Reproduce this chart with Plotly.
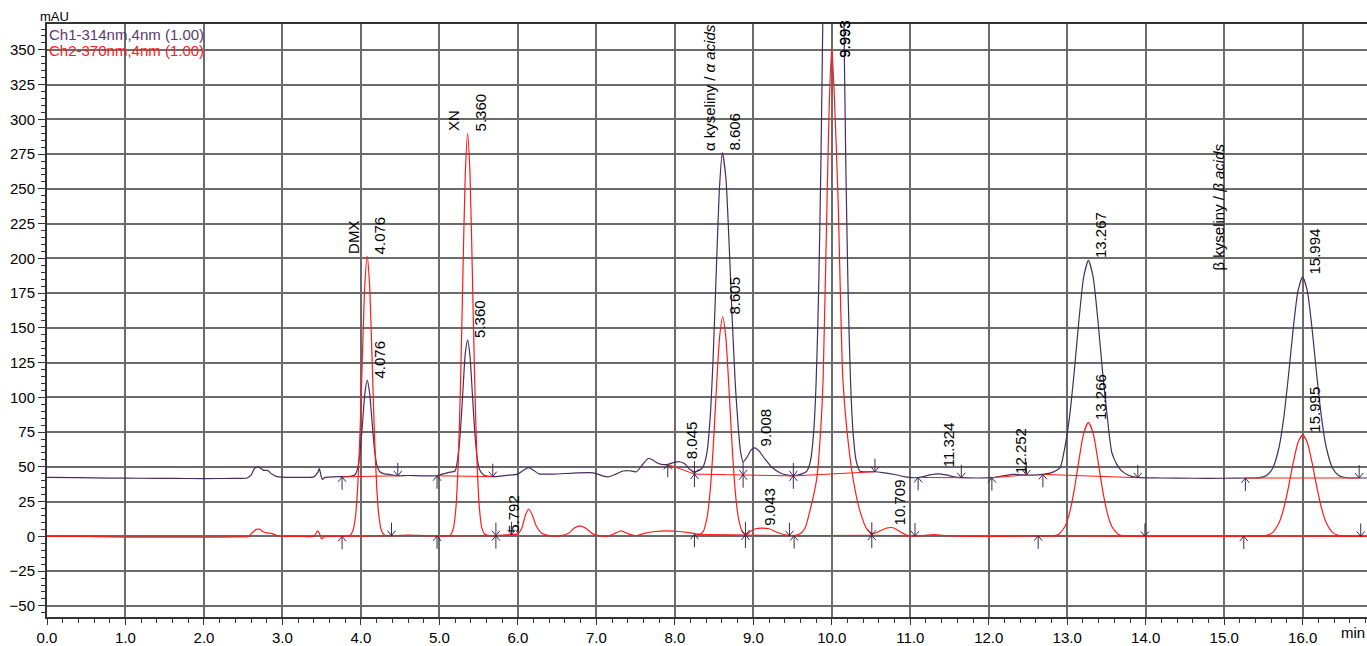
import plotly.graph_objects as go

# ---------------- data ----------------
ch1_t = [0.00, 0.40, 0.80, 1.20, 1.60, 2.00, 2.40, 2.55, 2.60, 2.64, 2.68, 2.72, 2.76, 2.81, 2.86, 2.92,
         3.00, 3.20, 3.40, 3.45, 3.47, 3.49, 3.51, 3.54, 3.65, 3.80, 3.88, 3.93, 3.96, 3.99, 4.02, 4.05,
         4.08, 4.11, 4.14, 4.17, 4.20, 4.24, 4.30, 4.36, 4.47, 4.60, 4.80, 4.96, 5.05, 5.12, 5.20, 5.24,
         5.27, 5.30, 5.33, 5.36, 5.39, 5.42, 5.45, 5.48, 5.51, 5.56, 5.68, 5.80, 5.92, 6.00, 6.07, 6.14,
         6.20, 6.27, 6.45, 6.70, 6.90, 7.00, 7.08, 7.15, 7.25, 7.34, 7.42, 7.51, 7.58, 7.66, 7.72, 7.77,
         7.83, 7.91, 7.98, 8.06, 8.13, 8.19, 8.25, 8.31, 8.36, 8.41, 8.45, 8.49, 8.53, 8.57, 8.606, 8.65,
         8.69, 8.73, 8.77, 8.81, 8.84, 8.87, 8.92, 8.97, 9.02, 9.08, 9.15, 9.24, 9.34, 9.44, 9.51, 9.62,
         9.68, 9.73, 9.77, 9.80, 9.83, 9.86, 9.89, 9.92, 9.97, 10.02, 10.07, 10.12, 10.15, 10.18, 10.21,
         10.24, 10.27, 10.31, 10.36, 10.45, 10.55, 10.65, 10.80, 10.92, 11.03, 11.15, 11.25, 11.36, 11.46,
         11.56, 11.65, 11.85, 12.04, 12.18, 12.32, 12.44, 12.56, 12.69, 12.78, 12.85, 12.91, 12.97, 13.03,
         13.09, 13.15, 13.21, 13.27, 13.33, 13.39, 13.45, 13.51, 13.57, 13.65, 13.73, 13.83, 13.93, 14.20,
         14.60, 15.00, 15.30, 15.44, 15.54, 15.62, 15.70, 15.76, 15.82, 15.88, 15.94, 16.00, 16.06, 16.12,
         16.18, 16.24, 16.30, 16.38, 16.46, 16.56, 16.70, 16.82]
ch1_v = [42.5, 42.2, 41.9, 41.8, 41.7, 41.6, 41.7, 42.0, 44.0, 48.5, 49.9, 49.0, 47.5, 47.5, 45.0, 43.2,
         42.6, 42.5, 42.8, 46.0, 48.7, 44.0, 41.0, 42.3, 42.8, 43.0, 43.3, 44.7, 49.4, 61.1, 81.0, 102.5,
         112.4, 103.5, 84.0, 64.0, 52.0, 46.5, 45.0, 44.6, 43.6, 43.8, 43.5, 43.6, 45.0, 46.0, 47.0, 59.0,
         77.5, 104.9, 131.6, 141.4, 129.6, 102.9, 75.5, 57.1, 48.3, 44.4, 43.0, 43.5, 44.2, 44.8, 47.5, 49.4,
         47.5, 45.0, 44.8, 45.5, 45.8, 45.2, 43.5, 42.8, 44.8, 47.0, 47.2, 46.5, 51.0, 56.0, 55.0, 53.0,
         51.8, 51.8, 53.0, 53.7, 52.0, 48.2, 46.5, 47.5, 50.0, 60.4, 85.1, 130.9, 193.7, 251.9, 276.0, 258.3,
         213.0, 158.0, 109.9, 77.1, 60.0, 53.5, 57.0, 62.0, 63.6, 61.0, 55.5, 49.5, 45.8, 44.0, 43.6, 45.0,
         46.8, 54.7, 75.7, 110.0, 170.0, 263.0, 391.0, 545.0, 789.0, 895.0, 789.0, 545.0, 391.0, 263.0, 170.0,
         110.0, 75.7, 54.7, 46.8, 46.5, 46.5, 45.8, 44.5, 43.0, 42.2, 42.8, 44.2, 45.0, 44.2,
         42.8, 42.2, 42.0, 42.2, 43.5, 44.6, 44.2, 44.0, 44.6, 45.5, 47.0, 49.4, 64.0, 86.2,
         118.7, 156.0, 186.6, 198.6, 186.6, 156.0, 118.7, 86.2, 60.0, 50.0, 45.5, 43.0, 42.2, 42.0,
         41.8, 41.8, 42.0, 42.1, 43.8, 49.2, 64.3, 85.6, 115.9, 149.4, 176.5, 186.7, 176.5, 149.4,
         115.9, 85.6, 64.3, 49.2, 43.8, 42.2, 42.0, 42.0]

ch2_t = [0.00, 0.50, 0.80, 1.20, 1.60, 2.00, 2.40, 2.57, 2.62, 2.67, 2.71, 2.75, 2.80, 2.86, 2.92, 3.00,
         3.20, 3.40, 3.45, 3.48, 3.50, 3.53, 3.60, 3.75, 3.86, 3.90, 3.93, 3.96, 3.99, 4.02, 4.05, 4.08,
         4.11, 4.14, 4.17, 4.20, 4.23, 4.26, 4.30, 4.40, 4.60, 4.80, 5.00, 5.14, 5.18, 5.21, 5.24, 5.27,
         5.30, 5.33, 5.36, 5.39, 5.42, 5.45, 5.48, 5.51, 5.54, 5.58, 5.70, 5.80, 5.92, 6.00, 6.05, 6.10,
         6.14, 6.18, 6.23, 6.30, 6.40, 6.55, 6.65, 6.72, 6.79, 6.86, 6.95, 7.05, 7.15, 7.25, 7.32, 7.40,
         7.51, 7.60, 7.75, 7.90, 8.06, 8.20, 8.31, 8.36, 8.41, 8.45, 8.49, 8.53, 8.57, 8.61, 8.65, 8.69,
         8.73, 8.77, 8.81, 8.86, 8.91, 8.96, 9.03, 9.10, 9.20, 9.30, 9.42, 9.52, 9.60, 9.66, 9.72, 9.81,
         9.86, 9.89, 9.94, 9.97, 10.00, 10.03, 10.08, 10.14, 10.19, 10.27, 10.36, 10.45, 10.52, 10.60,
         10.70, 10.78, 10.88, 10.98, 11.10, 11.30, 11.50, 11.80, 12.20, 12.60, 12.81, 12.89, 12.97, 13.03,
         13.09, 13.15, 13.21, 13.27, 13.33, 13.39, 13.45, 13.51, 13.57, 13.65, 13.73, 14.00, 14.50, 15.00,
         15.40, 15.54, 15.62, 15.70, 15.76, 15.82, 15.88, 15.94, 16.00, 16.06, 16.12, 16.18, 16.24, 16.30,
         16.38, 16.46, 16.60, 16.82]
ch2_v = [0.0, 0.0, -0.4, -0.5, -0.5, -0.5, -0.4, 0.0, 3.0, 5.0, 5.2, 3.5, 2.5, 2.2, 0.8, 0.0,
         0.0, 0.2, 4.0, 1.0, -1.9, -0.5, 0.0, 0.0, 0.7, 4.4, 14.1, 36.7, 77.3, 131.7, 181.3, 201.7,
         181.3, 131.7, 77.3, 36.7, 14.1, 4.4, 1.0, 0.5, 1.0, 0.6, 0.3, 0.9, 6.3, 20.2, 52.8, 111.1,
         189.4, 260.7, 290.0, 260.7, 189.4, 111.1, 52.8, 20.2, 6.3, 1.5, 0.4, 0.8, 1.2, 1.8, 6.0, 16.0,
         19.5, 16.0, 8.0, 2.5, 0.5, 0.5, 2.5, 6.0, 7.6, 6.0, 2.0, 0.3, 0.3, 2.5, 4.0, 2.0,
         0.5, 2.0, 3.5, 4.0, 3.5, 2.5, 1.5, 3.3, 13.4, 32.5, 65.0, 106.4, 143.1, 158.0, 143.1, 106.4,
         65.0, 32.5, 13.4, 3.3, 1.2, 3.5, 5.5, 6.0, 5.5, 3.0, 1.0, 0.5, 2.0, 6.0, 18.0, 42.0,
         78.0, 114.0, 243.0, 315.0, 351.0, 320.0, 243.0, 114.0, 78.0, 42.0, 18.0, 5.0, 2.0, 3.5,
         6.0, 6.2, 3.0, 0.5, 0.3, 1.3, 0.3, 0.0, 0.0, 0.4, 0.3, 1.6, 6.9, 16.9,
         33.7, 55.2, 74.3, 82.0, 74.3, 55.2, 33.7, 16.9, 6.9, 1.6, 0.3, 0.0, 0.0, 0.0,
         0.2, 0.7, 2.9, 9.9, 20.3, 35.6, 53.0, 67.4, 73.0, 67.4, 53.0, 35.6, 20.3, 9.9,
         2.9, 0.7, 0.1, 0.0]

# peak tables (retention time, apex height, name)
ch1_peak_rt = [4.076, 5.360, 8.045, 8.606, 9.008, 9.993, 11.324, 12.252, 13.267, 15.994]
ch1_peak_h = [112.4, 141.4, 54.0, 276.0, 63.6, 895.0, 48.0, 43.5, 198.6, 186.7]
ch1_peak_name = ["", "", "", "α kyseliny / <i>α acids</i>", "", "", "", "", "", ""]
ch2_peak_rt = [4.076, 5.360, 5.792, 8.605, 9.043, 9.993, 10.709, 13.266, 15.995]
ch2_peak_h = [201.7, 290.0, 1.2, 158.0, 6.4, 351.0, 6.4, 82.0, 73.0]
ch2_peak_name = ["DMX", "XN", "", "", "", "", "", "", ""]

beta_label = "β kyseliny / <i>β acids</i>"
beta_label_t = 14.93
beta_label_v = 190.0

# integration baselines: start t, start v, end t, end v
ch1_bl_t0 = [3.76, 4.97, 7.91, 8.25, 9.51, 11.10, 12.04, 12.69, 15.27]
ch1_bl_v0 = [42.8, 43.6, 51.8, 44.8, 43.5, 42.4, 42.2, 44.6, 42.0]
ch1_bl_t1 = [4.47, 5.68, 8.25, 9.51, 10.55, 11.65, 12.48, 13.90, 16.72]
ch1_bl_v1 = [43.6, 43.0, 44.8, 43.5, 46.5, 42.2, 44.2, 42.2, 42.0]
ch1_drop_t = [8.87]
ch1_drop_v = [44.3]

ch2_bl_t0 = [3.76, 4.97, 5.72, 8.25, 8.90, 9.52, 10.51, 12.63, 15.25]
ch2_bl_v0 = [0.0, 0.3, 0.5, 1.5, 1.0, 0.5, 0.8, 0.4, 0.2]
ch2_bl_t1 = [4.39, 5.72, 5.92, 8.90, 9.46, 10.51, 11.06, 13.99, 16.74]
ch2_bl_v1 = [0.5, 0.5, 1.2, 1.0, 0.5, 0.8, 0.3, 0.0, 0.0]

x_ticks = [i for i in range(0, 17)]
y_ticks = [-50, -25, 0, 25, 50, 75, 100, 125, 150, 175, 200, 225, 250, 275, 300, 325, 350]

ch1_name = "Ch1-314nm,4nm (1.00)"
ch2_name = "Ch2-370nm,4nm (1.00)"

# ---------------- style / layout ----------------
W, H = 1367, 646
ML, MR, MT, MB = 47, 0, 24, 26
XMAX = 16.82
YMIN, YMAX = -58.0, 368.6
PURPLE = "#4a2c5c"
RED = "#ff1a1a"
ARROW = "#3d2850"
FONT = "Liberation Sans, Arial, sans-serif"

px_x = XMAX / (W - ML - MR)
px_y = (YMAX - YMIN) / (H - MT - MB)

fig = go.Figure()

fig.add_trace(go.Scatter(x=ch1_t, y=ch1_v, mode="lines", line=dict(color=PURPLE, width=1.2, shape="spline", smoothing=0.6),
                         name=ch1_name, hoverinfo="skip"))
fig.add_trace(go.Scatter(x=ch2_t, y=ch2_v, mode="lines", line=dict(color=RED, width=1.2, shape="spline", smoothing=0.6),
                         name=ch2_name, hoverinfo="skip"))

# integration baselines
bx, by = [], []
for t0s, v0s, t1s, v1s in [(ch1_bl_t0, ch1_bl_v0, ch1_bl_t1, ch1_bl_v1), (ch2_bl_t0, ch2_bl_v0, ch2_bl_t1, ch2_bl_v1)]:
    for a, b, c, d in zip(t0s, v0s, t1s, v1s):
        bx += [a, c, None]
        by += [b, d, None]
fig.add_trace(go.Scatter(x=bx, y=by, mode="lines", line=dict(color=RED, width=1), hoverinfo="skip"))

# arrows
ax_, ay_ = [], []
SH, WX, WY = 13, 4, 5


def up(t, v):
    ax_.extend([t, t, None, t - WX * px_x, t, t + WX * px_x, None])
    ay_.extend([v - SH * px_y, v, None, v - WY * px_y, v, v - WY * px_y, None])


def down(t, v):
    ax_.extend([t, t, None, t - WX * px_x, t, t + WX * px_x, None])
    ay_.extend([v + SH * px_y, v, None, v + WY * px_y, v, v + WY * px_y, None])


for t, v in zip(ch1_bl_t0 + ch2_bl_t0, ch1_bl_v0 + ch2_bl_v0):
    up(t, v)
for t, v in zip(ch1_bl_t1 + ch2_bl_t1, ch1_bl_v1 + ch2_bl_v1):
    down(t, v)
for t, v in zip(ch1_drop_t, ch1_drop_v):
    up(t, v)
    down(t, v)
fig.add_trace(go.Scatter(x=ax_, y=ay_, mode="lines", line=dict(color=ARROW, width=1), hoverinfo="skip"))

annotations = []
LABEL_LEN = 26.0
for rts, hs, names in [(ch1_peak_rt, ch1_peak_h, ch1_peak_name), (ch2_peak_rt, ch2_peak_h, ch2_peak_name)]:
    for rt, h, nm in zip(rts, hs, names):
        yl = min(h, YMAX - LABEL_LEN)
        annotations.append(dict(x=rt, y=yl, xref="x", yref="y", text=f"{rt:.3f}", textangle=-90,
                                showarrow=False, xanchor="left", yanchor="bottom", xshift=2, yshift=0,
                                font=dict(family=FONT, size=15, color="black")))
        if nm:
            annotations.append(dict(x=rt, y=h, xref="x", yref="y", text=nm, textangle=-90,
                                    showarrow=False, xanchor="right", yanchor="bottom", xshift=-3,
                                    font=dict(family=FONT, size=15, color="black")))

annotations.append(dict(x=beta_label_t, y=beta_label_v, xref="x", yref="y", text=beta_label, textangle=-90,
                        showarrow=False, xanchor="center", yanchor="bottom",
                        font=dict(family=FONT, size=15, color="black")))

annotations.append(dict(x=0, y=1, xref="paper", yref="paper", text=ch1_name, showarrow=False,
                        xanchor="left", yanchor="top", xshift=0, yshift=0,
                        font=dict(family=FONT, size=15, color="#5a3a6e")))
annotations.append(dict(x=0, y=1, xref="paper", yref="paper", text=ch2_name, showarrow=False,
                        xanchor="left", yanchor="top", xshift=0, yshift=-16,
                        font=dict(family=FONT, size=15, color="#ff2020")))
annotations.append(dict(x=0, y=1, xref="paper", yref="paper", text="mAU", showarrow=False,
                        xanchor="center", yanchor="bottom", xshift=7, yshift=-2,
                        font=dict(family=FONT, size=13, color="black")))
annotations.append(dict(x=1, y=0, xref="paper", yref="paper", text="min", showarrow=False,
                        xanchor="right", yanchor="top", xshift=0, yshift=-5,
                        font=dict(family=FONT, size=15, color="black")))

fig.update_layout(
    width=W, height=H,
    margin=dict(l=ML, r=MR, t=MT, b=MB),
    plot_bgcolor="white", paper_bgcolor="white",
    showlegend=False,
    annotations=annotations,
    font=dict(family=FONT, size=15, color="black"),
)
fig.update_xaxes(range=[0, XMAX], tickvals=x_ticks, ticktext=[f"{v:.1f}" for v in x_ticks],
                 showgrid=True, gridcolor="#6b6b6b", gridwidth=2, zeroline=False,
                 showline=True, linecolor="#333333", linewidth=2, mirror=True,
                 ticks="outside", ticklen=6, tickwidth=1, tickcolor="#333333",
                 minor=dict(dtick=0.2, ticks="outside", ticklen=4, tickcolor="#333333", showgrid=False),
                 tickfont=dict(family=FONT, size=15))
fig.update_yaxes(range=[YMIN, YMAX], tickvals=y_ticks,
                 showgrid=True, gridcolor="#6b6b6b", gridwidth=2, zeroline=False,
                 showline=True, linecolor="#333333", linewidth=2,
                 ticks="outside", ticklen=7, tickwidth=1, tickcolor="#333333",
                 minor=dict(dtick=5, ticks="outside", ticklen=4, tickcolor="#333333", showgrid=False),
                 tickfont=dict(family=FONT, size=15))

fig.write_html("out.html")
